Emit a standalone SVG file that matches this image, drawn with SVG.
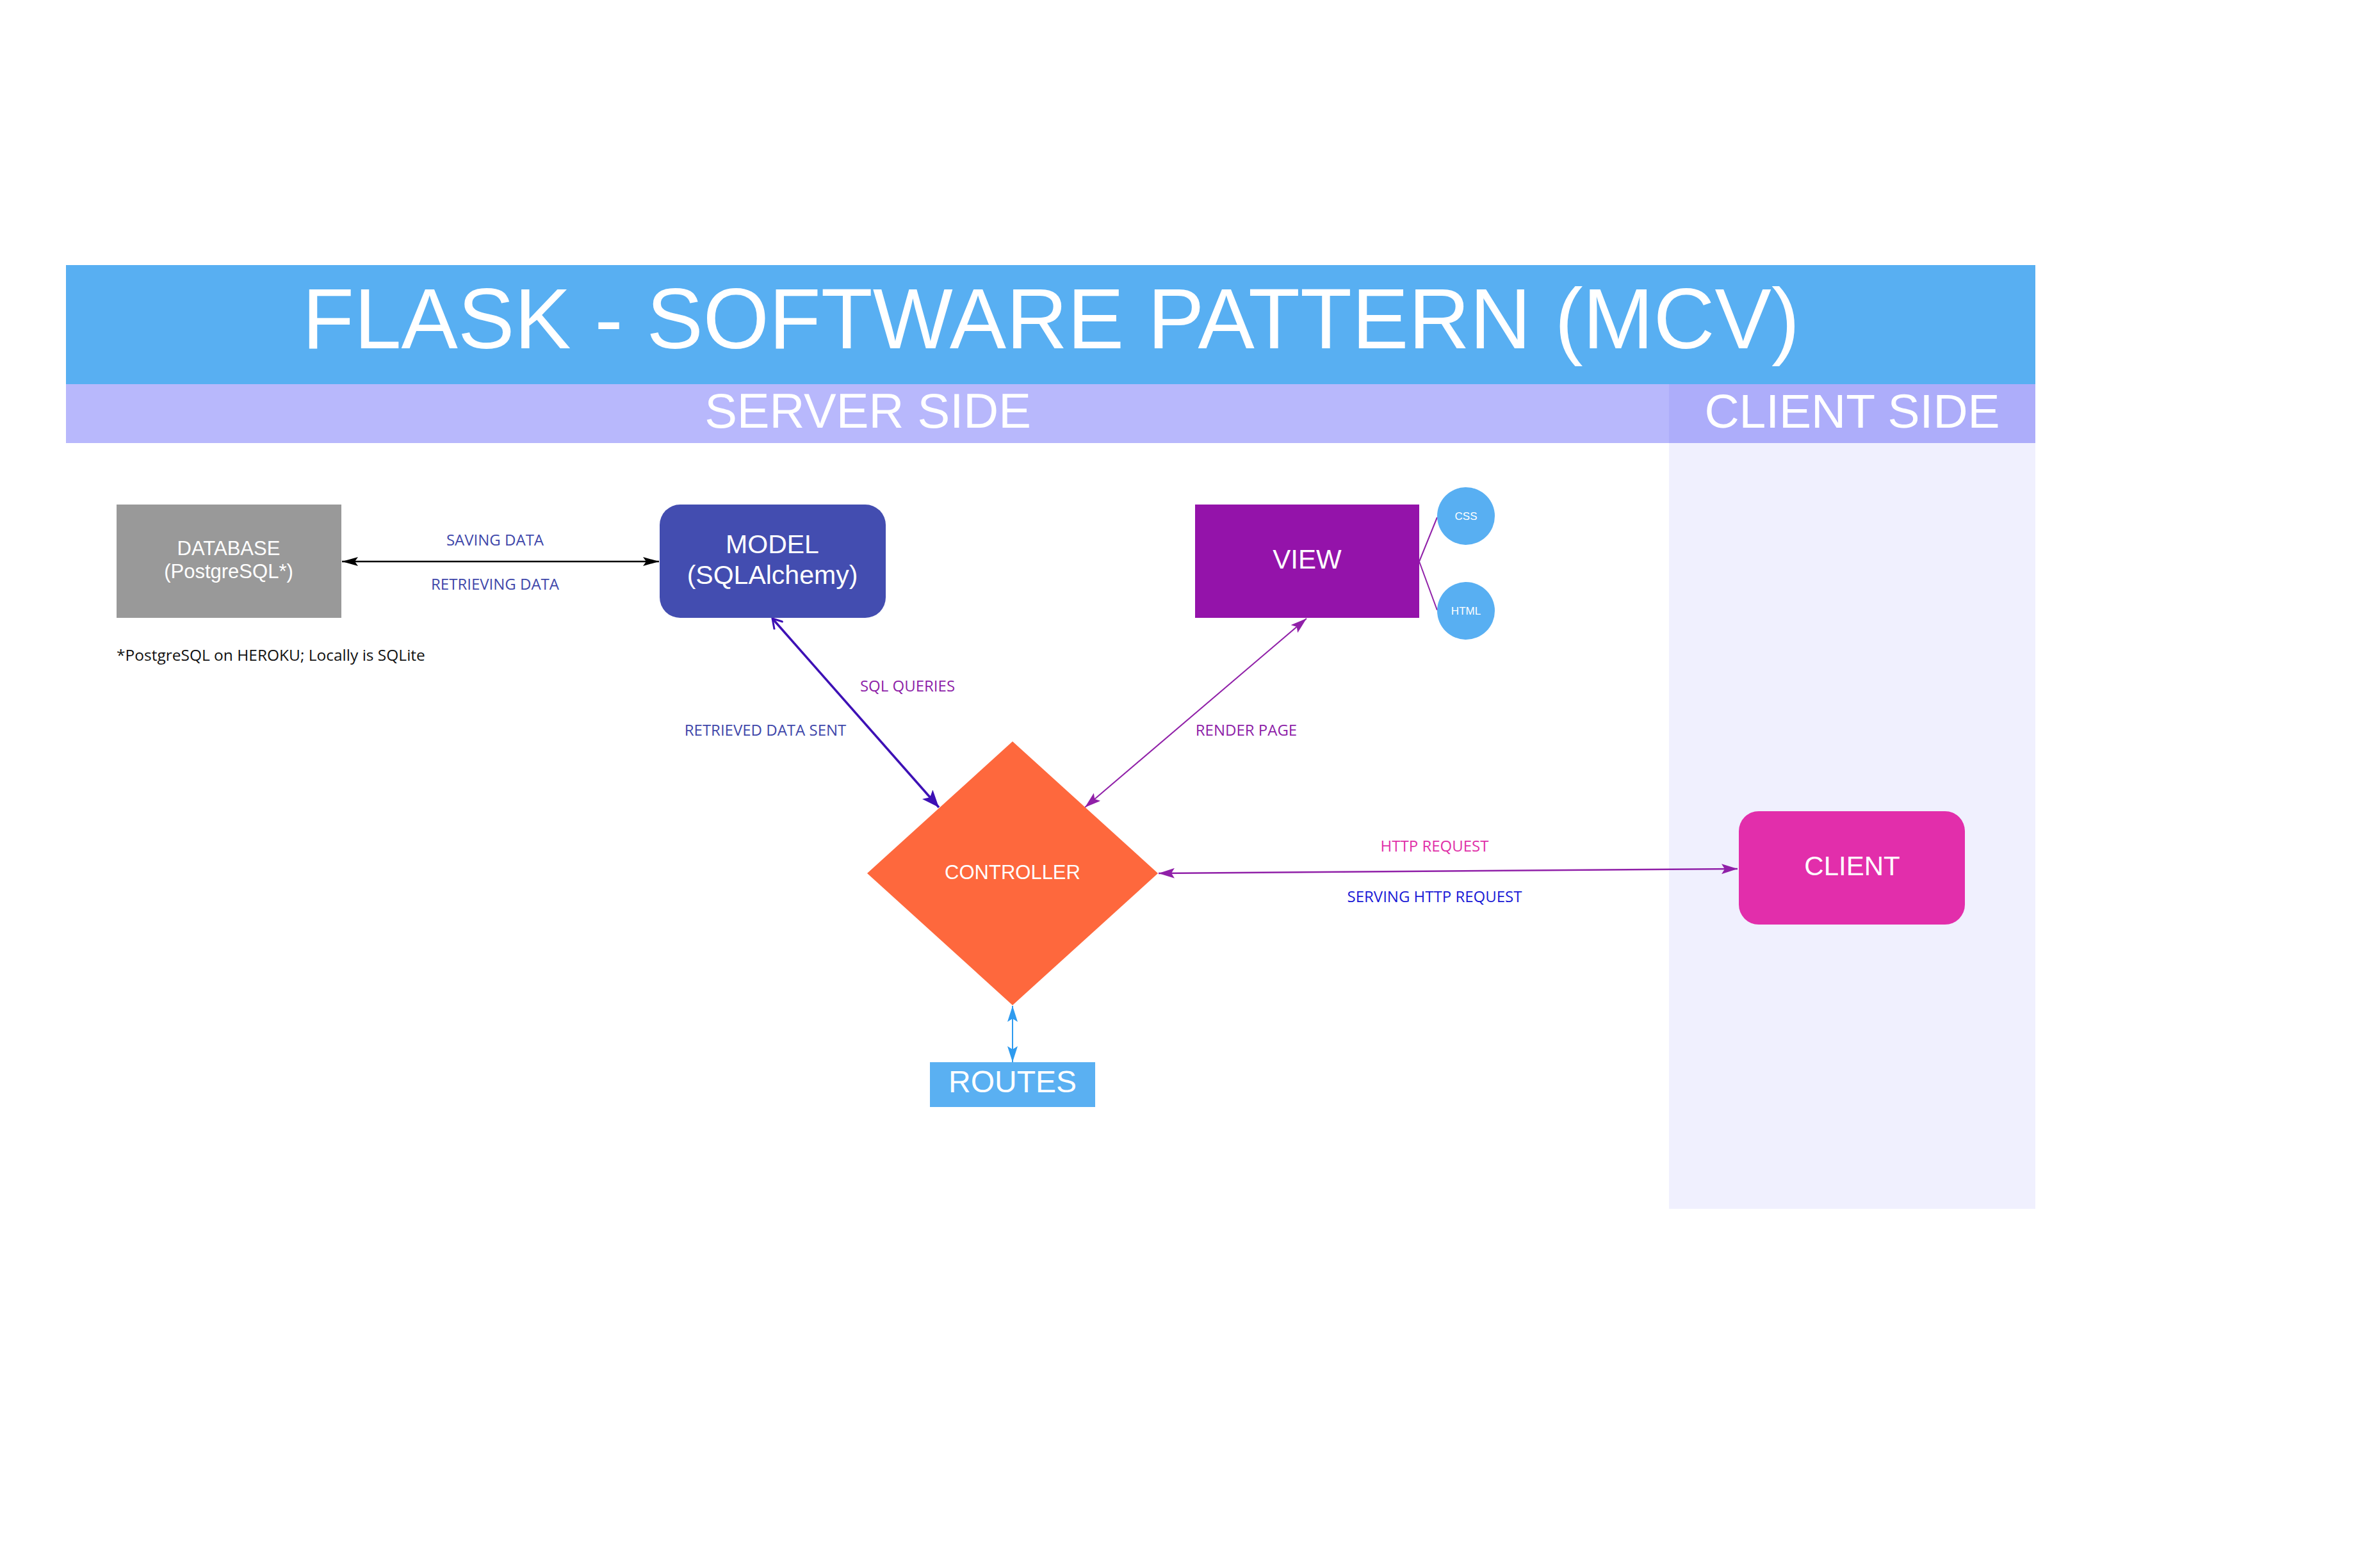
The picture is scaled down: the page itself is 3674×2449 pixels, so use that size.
<svg xmlns="http://www.w3.org/2000/svg" width="3674" height="2449" viewBox="0 0 3674 2449">
<style>
.node{font-family:"Liberation Sans",Arial,sans-serif;fill:#ffffff;text-anchor:middle}
.lbl{font-family:"Open Sans","Noto Sans",sans-serif;font-size:24px;text-anchor:middle}
.conn{fill:none}
</style>
<defs>
<marker id="ahBlack" markerUnits="userSpaceOnUse" markerWidth="26" markerHeight="14" refX="25" refY="7" orient="auto-start-reverse" viewBox="0 0 26 14"><path d="M0,0 L25,7 L0,14 L5,7 z" fill="#000000"/></marker>
<marker id="ahIndigo" markerUnits="userSpaceOnUse" markerWidth="28" markerHeight="22" refX="27" refY="11" orient="auto-start-reverse" viewBox="0 0 28 22"><path d="M0,0 L27,11 L0,22 L6,11 z" fill="#3D10B5"/></marker>
<marker id="openIndigo" markerUnits="userSpaceOnUse" markerWidth="18" markerHeight="20" refX="16" refY="10" orient="auto-start-reverse" viewBox="0 0 18 20"><path d="M1,1 L16,10 L1,19" fill="none" stroke="#3D10B5" stroke-width="3"/></marker>
<marker id="ahPurple" markerUnits="userSpaceOnUse" markerWidth="26" markerHeight="16" refX="25" refY="8" orient="auto-start-reverse" viewBox="0 0 26 16"><path d="M0,0 L25,8 L0,16 L5,8 z" fill="#9020A8"/></marker>
<marker id="ahBlue" markerUnits="userSpaceOnUse" markerWidth="26" markerHeight="16" refX="25" refY="8" orient="auto-start-reverse" viewBox="0 0 26 16"><path d="M0,0 L25,8 L0,16 L5,8 z" fill="#2E9BEF"/></marker>
</defs>
<rect width="3674" height="2449" fill="#ffffff"/>
<g id="background">
<rect x="103" y="414" width="3075" height="186" fill="#58AFF2"/>
<rect x="103" y="600" width="2503" height="92" fill="#B8B8FC"/>
<rect x="2606" y="600" width="572" height="92" fill="#ADADFA"/>
<rect x="2606" y="692" width="572" height="1196" fill="#F0F0FE"/>
<text x="1641" y="544" class="node" font-size="134" textLength="2338" lengthAdjust="spacingAndGlyphs">FLASK - SOFTWARE PATTERN (MCV)</text>
<text x="1355" y="668" class="node" font-size="76">SERVER SIDE</text>
<text x="2892" y="668" class="node" font-size="75">CLIENT SIDE</text>
</g>
<g id="connectors">
<line class="conn" x1="534" y1="877" x2="1029" y2="877" stroke="#000000" stroke-width="2.5" marker-start="url(#ahBlack)" marker-end="url(#ahBlack)"/>
<line class="conn" x1="1206" y1="966" x2="1466" y2="1261" stroke="#3D10B5" stroke-width="3.5" marker-start="url(#openIndigo)" marker-end="url(#ahIndigo)"/>
<line class="conn" x1="1694" y1="1261" x2="2040" y2="966" stroke="#9020A8" stroke-width="2" marker-start="url(#ahPurple)" marker-end="url(#ahPurple)"/>
<line class="conn" x1="1809" y1="1364" x2="2713" y2="1357" stroke="#9020A8" stroke-width="2.5" marker-start="url(#ahPurple)" marker-end="url(#ahPurple)"/>
<line class="conn" x1="1581" y1="1571" x2="1581" y2="1659" stroke="#2E9BEF" stroke-width="2" marker-start="url(#ahBlue)" marker-end="url(#ahBlue)"/>
<line class="conn" x1="2216" y1="877" x2="2244" y2="808" stroke="#9020A8" stroke-width="2"/>
<line class="conn" x1="2216" y1="877" x2="2244" y2="953" stroke="#9020A8" stroke-width="2"/>
<text x="773" y="852" class="lbl" fill="#4047AA">SAVING DATA</text>
<text x="773" y="921" class="lbl" fill="#4047AA">RETRIEVING DATA</text>
<text x="1417" y="1080" class="lbl" fill="#8E1FA8">SQL QUERIES</text>
<text x="1195" y="1149" class="lbl" fill="#4047AA">RETRIEVED DATA SENT</text>
<text x="1946" y="1149" class="lbl" fill="#8E1FA8">RENDER PAGE</text>
<text x="2240" y="1330" class="lbl" fill="#E030A8">HTTP REQUEST</text>
<text x="2240" y="1409" class="lbl" fill="#1A1AD6">SERVING HTTP REQUEST</text>
</g>
<g id="database">
<rect x="182" y="788" width="351" height="177" fill="#999999"/>
<text x="357" y="867" class="node" font-size="31">DATABASE</text>
<text x="357" y="903" class="node" font-size="31">(PostgreSQL*)</text>
</g>
<g id="footnote">
<text x="182" y="1032" font-family="'Open Sans','Noto Sans',sans-serif" font-size="24.5" fill="#111111">*PostgreSQL on HEROKU; Locally is SQLite</text>
</g>
<g id="model">
<rect x="1030" y="788" width="353" height="177" rx="32" ry="32" fill="#434DB0"/>
<text x="1206" y="864" class="node" font-size="41">MODEL</text>
<text x="1206" y="912" class="node" font-size="41">(SQLAlchemy)</text>
</g>
<g id="view">
<rect x="1866" y="788" width="350" height="177" fill="#9413AA"/>
<text x="2041" y="888" class="node" font-size="42">VIEW</text>
</g>
<g id="css">
<circle cx="2289" cy="806" r="45" fill="#58AFF2"/>
<text x="2289" y="812" class="node" font-size="17">CSS</text>
</g>
<g id="html">
<circle cx="2289" cy="954" r="45" fill="#58AFF2"/>
<text x="2289" y="960" class="node" font-size="17">HTML</text>
</g>
<g id="controller">
<polygon points="1581,1158 1808,1364 1581,1570 1354,1364" fill="#FE683D"/>
<text x="1581" y="1373" class="node" font-size="31">CONTROLLER</text>
</g>
<g id="routes">
<rect x="1452" y="1659" width="258" height="70" fill="#5AB0F2"/>
<text x="1581" y="1706" class="node" font-size="48">ROUTES</text>
</g>
<g id="client">
<rect x="2715" y="1267" width="353" height="177" rx="31" ry="31" fill="#E22EAB"/>
<text x="2892" y="1367" class="node" font-size="42">CLIENT</text>
</g>
</svg>
